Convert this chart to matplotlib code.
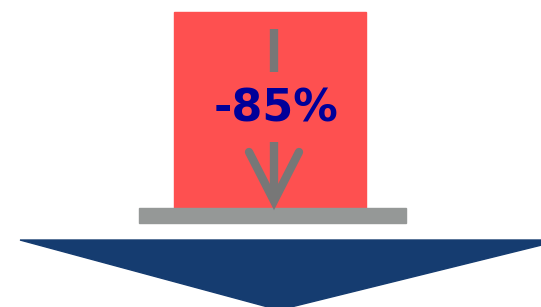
import matplotlib.pyplot as plt
from matplotlib.patches import Rectangle, Polygon

# value shown in the graphic
change_label = ['-85%']

W, H = 541, 307
fig = plt.figure(figsize=(W / 100, H / 100), dpi=100)
ax = fig.add_axes([0, 0, 1, 1])
ax.set_xlim(0, W)
ax.set_ylim(H, 0)
ax.axis('off')

# red block
ax.add_patch(Rectangle((174, 12), 192, 196, color='#fe5050', zorder=1))
# gray floor
ax.add_patch(Rectangle((139, 208), 267, 15, color='#959897', zorder=2))
# navy down triangle
ax.add_patch(Polygon([(20, 240), (562, 240), (279, 310)], closed=True,
                     color='#153c70', zorder=1))

# gray arrow split by the text
arrow_kw = dict(color='#777777', lw=6, solid_capstyle='butt', zorder=3)
ax.plot([274, 274], [29, 72], **arrow_kw)
ax.plot([274, 274], [142, 200], **arrow_kw)
ax.plot([249, 274, 299], [152, 201, 152], color='#777777', lw=6,
        solid_capstyle='round', solid_joinstyle='miter', zorder=3)

ax.text(276, 109, change_label[0], ha='center', va='center',
        fontsize=32, fontweight='bold', color='#000099', zorder=4)

fig.savefig('out.png', dpi=100)
